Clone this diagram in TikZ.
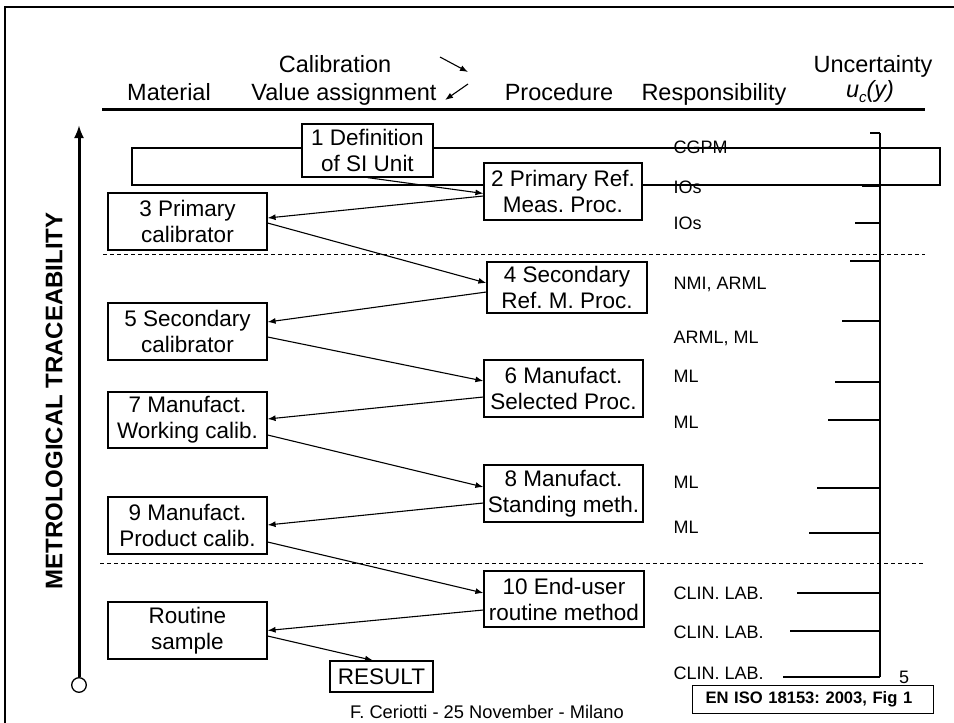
\documentclass[tikz,border=0pt]{standalone}
\usepackage{fontspec}
\setmainfont{Liberation Sans}
\usetikzlibrary{arrows.meta}
\frenchspacing

\begin{document}
\begin{tikzpicture}[x=1pt, y=-1pt,
  every node/.style={font=\fontsize{22.5}{26}\selectfont},
  box/.style={draw, fill=white, line width=1.2pt, align=center, inner sep=0pt, minimum width=159pt, minimum height=57pt},
  lbl/.style={anchor=base west, font=\fontsize{18}{21}\selectfont},
  hdr/.style={anchor=base, font=\fontsize{23.5}{27}\selectfont},
  conn/.style={-{Latex[length=8pt,width=6pt]}, line width=1.1pt},
  sep/.style={dash pattern=on 4pt off 3pt, line width=1pt}]
\useasboundingbox (0,0) rectangle (954,723);
\draw[line width=2.2pt] (5,723) -- (5,7) -- (954,7);

\node[hdr] (matl) at (169,100) {Material};
\node[hdr] (calib) at (335,72) {Calibration};
\node[hdr] (valas) at (344,100) {Value assignment};
\node[hdr] (proc) at (559,100) {Procedure};
\node[hdr] (resp) at (714,100) {Responsibility};
\node[hdr] (unc) at (873,72) {Uncertainty};
\node[hdr] (ucy) at (870,97) {\itshape u\raisebox{-5pt}{\fontsize{15}{15}\selectfont c}(y)};
\draw[line width=3pt] (102,109) -- (925,109);
\coordinate (ca1) at (440,57);
\coordinate (ca2) at (468,72);
\coordinate (va1) at (468,84);
\coordinate (va2) at (445,100);
\draw[conn] (ca1) -- (ca2);
\draw[conn] (va1) -- (va2);

% responsibility column
\foreach \y/\t [count=\i] in {153.5/CGPM, 193.5/IOs, 229.5/IOs, 289.5/{NMI, ARML}, 343.5/{ARML, ML},
    382.5/ML, 428.5/ML, 488.5/ML, 533.5/ML, 599.5/CLIN. LAB., 638.5/CLIN. LAB., 679.5/CLIN. LAB.}
  \node[lbl] (r\i) at (670,\y) {\t};
\draw[line width=1.2pt] (132,148) rectangle (940,185);

% uncertainty scale
\coordinate (utop) at (880,133);
\coordinate (ubot) at (880,677);
\draw[line width=1.1pt] (utop) -- (ubot);
\foreach \y/\x in {133/870, 186/862, 223/855, 261/850, 321/842, 382/835, 420/828, 488/817, 533/809, 593/797, 631/790, 677/783}
  \draw[line width=1.1pt] (\x,\y) -- (880,\y);

\draw[sep] (103,254) -- (925,254);
\draw[sep] (100,563) -- (925,563);

\node[box, minimum width=131pt, minimum height=53pt] (def) at (367.5,150.5) {1 Definition\\of SI Unit};
\node[box, minimum width=158pt] (prp) at (563,191.5) {2 Primary Ref.\\Meas. Proc.};
\node[box] (pcal) at (187.5,221.5) {3 Primary\\calibrator};
\node[box, minimum width=160pt, minimum height=51pt] (srp) at (567,287.5) {4 Secondary\\Ref. M. Proc.};
\node[box] (scal) at (187.5,331.5) {5 Secondary\\calibrator};
\node[box] (msp) at (563.5,388.5) {6 Manufact.\\Selected Proc.};
\node[box, minimum height=56pt] (mwc) at (187.5,420) {7 Manufact.\\Working calib.};
\node[box] (msm) at (563.5,493.5) {8 Manufact.\\Standing meth.};
\node[box] (mpc) at (187.5,525.5) {9 Manufact.\\Product calib.};
\node[box, minimum width=160pt, minimum height=56pt] (eur) at (564,599) {10 End-user\\routine method};
\node[box] (rsmp) at (187.5,630.5) {Routine\\sample};
\node[box, minimum width=103pt, minimum height=31pt] (res) at (381.5,676.5) {RESULT};

\draw[conn] (def.south) -- ([yshift=-2pt]prp.west);
\draw[conn] ([yshift=-4.5pt]prp.west) -- ([yshift=3.5pt]pcal.east);
\draw[conn] ([yshift=-1.5pt]pcal.east) -- ([yshift=4.5pt]srp.west);
\draw[conn] ([yshift=-4.5pt]srp.west) -- ([yshift=9.5pt]scal.east);
\draw[conn] ([yshift=-5.5pt]scal.east) -- ([yshift=7.5pt]msp.west);
\draw[conn] ([yshift=-8.5pt]msp.west) -- ([yshift=1pt]mwc.east);
\draw[conn] ([yshift=-15pt]mwc.east) -- ([yshift=6.5pt]msm.west);
\draw[conn] ([yshift=-9.5pt]msm.west) -- ([yshift=.5pt]mpc.east);
\draw[conn] ([yshift=-16.5pt]mpc.east) -- ([yshift=6pt]eur.west);
\draw[conn] ([yshift=-11pt]eur.west) -- (rsmp.east);
\draw[conn] ([yshift=-5.5pt]rsmp.east) -- ([xshift=-8.5pt]res.north);

% traceability axis
\node[draw, circle, line width=1.3pt, minimum size=14.6pt, inner sep=0pt] (orig) at (79,685) {};
\coordinate (ttop) at (79,125);
\draw[line width=3pt, -{Latex[length=13pt,width=10pt]}] (orig.north) -- (ttop);
\node[rotate=90, font=\bfseries\fontsize{24}{28}\selectfont] (trace) at (54,401) {METROLOGICAL TRACEABILITY};

\node[anchor=base, font=\fontsize{18.3}{22}\selectfont] (foot) at (487,718.5) {F. Ceriotti - 25 November - Milano};
\node[anchor=base, font=\fontsize{18}{21}\selectfont] (pgno) at (904,683) {5};
\node[draw, line width=1.2pt, anchor=west, text width=215pt, align=left, inner xsep=13pt, inner ysep=0pt, minimum height=28pt,
  font=\bfseries\fontsize{16.6}{19}\selectfont] (src) at (692,699.5) {EN ISO 18153: 2003, Fig 1};
\end{tikzpicture}
\end{document}
